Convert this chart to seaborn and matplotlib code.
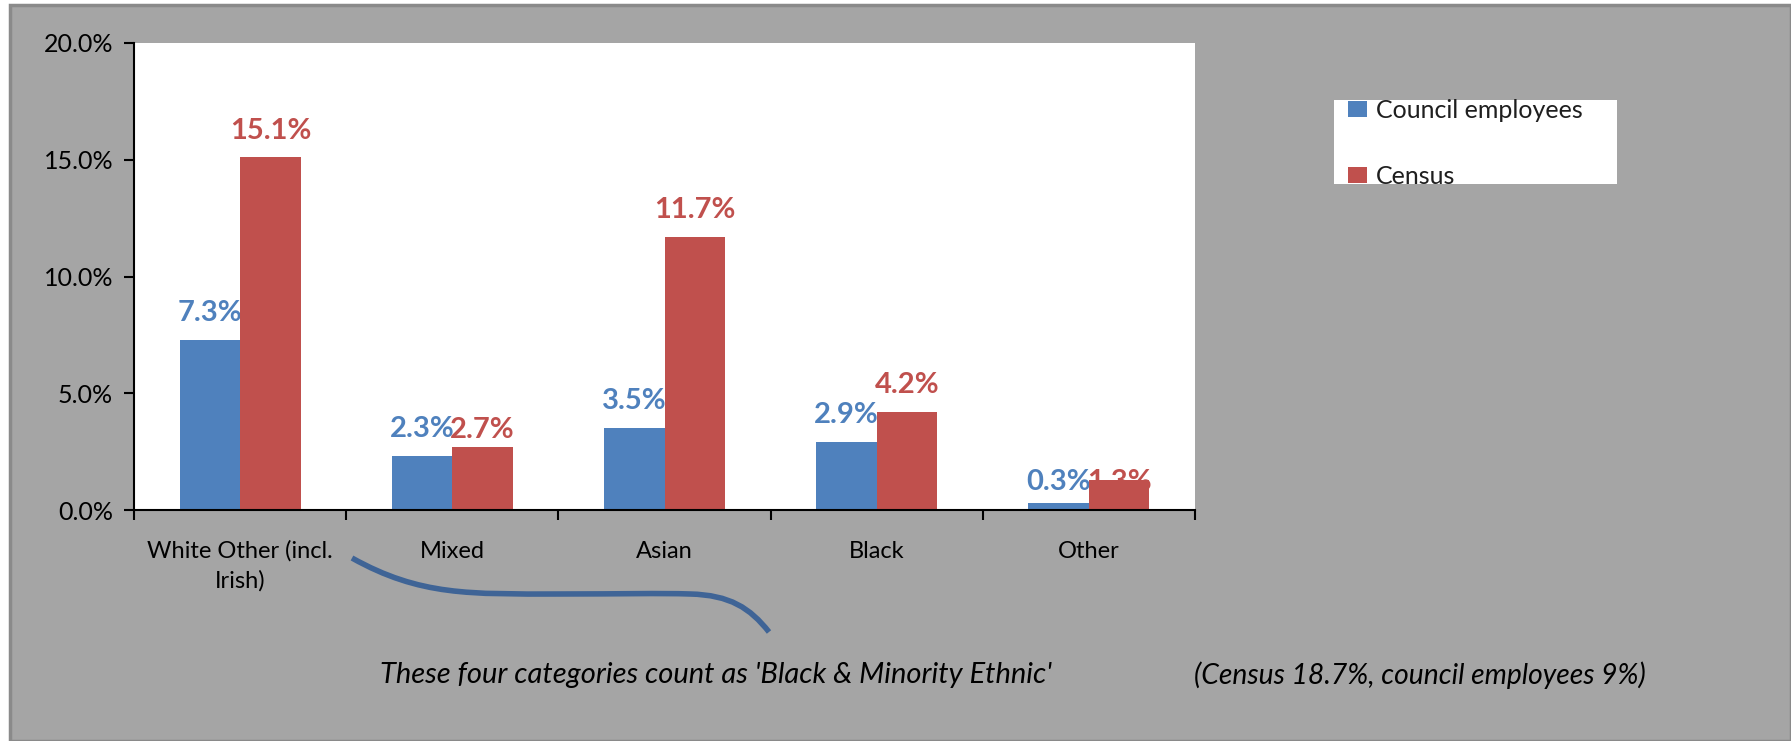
import matplotlib
matplotlib.use("Agg")
import matplotlib.pyplot as plt
from matplotlib.path import Path
from matplotlib.patches import PathPatch, Rectangle
from matplotlib.ticker import FixedLocator, FuncFormatter
import seaborn as sns
import pandas as pd

# Ethnic group shares (percent)
categories = ["White Other (incl.\nIrish)", "Mixed", "Asian", "Black", "Other"]
council_employees = [7.3, 2.3, 3.5, 2.9, 0.3]
census = [15.1, 2.7, 11.7, 4.2, 1.3]
series_names = ["Council employees", "Census"]
y_ticks = [0, 5, 10, 15, 20]

colors = ["#4F81BD", "#C0504D"]
bg = "#A5A5A5"

sns.set_style("white")
plt.rcParams["font.family"] = ["Lato", "DejaVu Sans"]

df = pd.DataFrame({
    "category": categories * 2,
    "value": council_employees + census,
    "series": [series_names[0]] * len(categories) + [series_names[1]] * len(categories),
})

W, H = 1791, 741
fig = plt.figure(figsize=(W / 100, H / 100), dpi=100)
fig.patch.set_facecolor("white")

# grey chart area with darker frame
frame = Rectangle((10 / W, 0), 1 - 10 / W, 1 - 5 / H, transform=fig.transFigure,
                  facecolor=bg, edgecolor="#8A8A8A", linewidth=2.5, zorder=-10)
fig.patches.append(frame)

ax = fig.add_axes([134 / W, (H - 510) / H, (1195 - 134) / W, (510 - 43) / H])
ax.set_zorder(1)
ax.set_facecolor("white")

sns.barplot(data=df, x="category", y="value", hue="series", palette=colors,
            width=0.57, gap=0, saturation=1, ax=ax, legend=True, edgecolor="none")

# value labels; crowded ones sit lower, the last red one tucked behind its bar
label_pads = [[10, 10, 10, 10, 6], [10, 3, 10, 10, -11]]
for cont, col, pads in zip(ax.containers, colors, label_pads):
    for bar in cont:
        bar.set_zorder(2)
    texts = ax.bar_label(cont, fmt="%.1f%%", color=col, fontsize=21,
                         fontweight="bold", padding=0)
    for t, pad in zip(texts, pads):
        t.xyann = (0, pad)
        t.set_zorder(1.5)

ax.set_ylim(0, 20)
ax.set_xlim(-0.5, len(categories) - 0.5)
ax.yaxis.set_major_locator(FixedLocator(y_ticks))
ax.yaxis.set_major_formatter(FuncFormatter(lambda v, p: f"{v:.1f}%"))
ax.tick_params(axis="y", direction="out", length=7, width=1.5, color="black",
               labelsize=18, labelcolor="black", pad=8, left=True)

# category boundaries as major ticks, names on minor ticks
ax.set_xticks([i - 0.5 for i in range(len(categories) + 1)])
ax.set_xticklabels([])
ax.set_xticks(range(len(categories)), minor=True)
ax.set_xticklabels(categories, minor=True, fontsize=17, linespacing=1.45)
ax.tick_params(axis="x", which="major", direction="out", length=7, width=1.5,
               color="black", bottom=True)
ax.tick_params(axis="x", which="minor", length=0, pad=22, labelcolor="black")
ax.set_xlabel("")
ax.set_ylabel("")
for s in ["top", "right"]:
    ax.spines[s].set_visible(False)
for s in ["left", "bottom"]:
    ax.spines[s].set_color("black")
    ax.spines[s].set_linewidth(1.5)

# legend on a white panel
handles, labels = ax.get_legend_handles_labels()
ax.get_legend().remove()
panel = Rectangle((1334 / W, 1 - 184 / H), (1617 - 1334) / W, (184 - 100) / H,
                  transform=fig.transFigure, facecolor="white", edgecolor="none", zorder=1)
fig.patches.append(panel)
leg = fig.legend(handles, labels, loc="upper left",
                 bbox_to_anchor=(1348 / W, 1 - 99 / H), frameon=False,
                 fontsize=18, labelspacing=1.7, handlelength=0.75, handleheight=0.6,
                 handletextpad=0.35, borderpad=0, borderaxespad=0)
leg.set_zorder(2)
for t in leg.get_texts():
    t.set_color("#1F1F1F")

# brace-like curve under the first four categories
def fp(x, y):
    return (x / W, 1 - y / H)

verts = [fp(352, 558), fp(420, 596), fp(470, 594), fp(560, 594),
         fp(620, 594), fp(660, 593), fp(690, 594),
         fp(730, 595), fp(750, 608), fp(769, 632)]
codes = [Path.MOVETO] + [Path.CURVE4] * 9
curve = PathPatch(Path(verts, codes), transform=fig.transFigure, facecolor="none",
                  edgecolor="#3F6496", linewidth=4, capstyle="butt")
fig.patches.append(curve)

fig.text(380 / W, 1 - 675 / H, "These four categories count as 'Black & Minority Ethnic'",
         fontsize=21, style="italic", color="black", ha="left", va="center")
fig.text(1194 / W, 1 - 675 / H, "(Census 18.7%, council employees 9%)",
         fontsize=20.3, style="italic", color="black", ha="left", va="center")

fig.savefig("out.png", dpi=100, facecolor=fig.get_facecolor())
